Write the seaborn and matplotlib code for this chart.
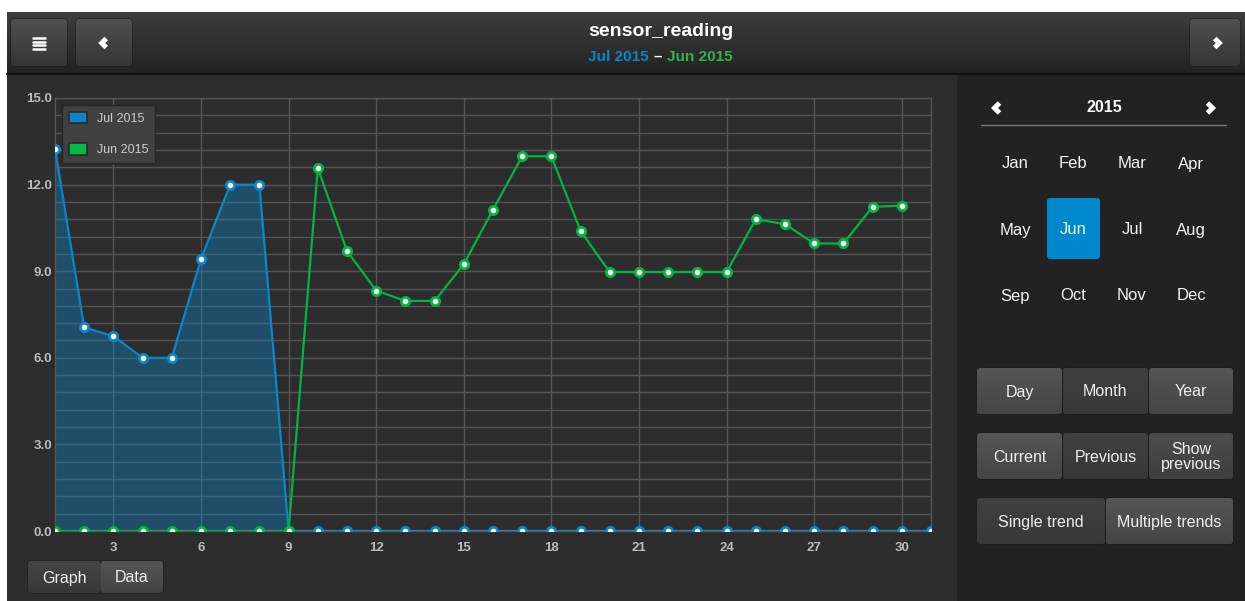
import numpy as np
import pandas as pd
import matplotlib.pyplot as plt
import seaborn as sns
from matplotlib.patches import FancyBboxPatch, Rectangle, Patch
from matplotlib.colors import LinearSegmentedColormap

# dados
dias_jul = list(range(1, 32))
valores_jul = [13.25, 7.05, 6.75, 6.0, 6.0, 9.42, 12.0, 12.0, 0.0, 0.0,
               0.0, 0.0, 0.0, 0.0, 0.0, 0.0, 0.0, 0.0, 0.0, 0.0,
               0.0, 0.0, 0.0, 0.0, 0.0, 0.0, 0.0, 0.0, 0.0, 0.0, 0.0]
dias_jun = list(range(1, 31))
valores_jun = [0.0, 0.0, 0.0, 0.0, 0.0, 0.0, 0.0, 0.0, 0.0, 12.57,
               9.7, 8.33, 7.97, 7.97, 9.24, 11.13, 12.98, 12.98, 10.39, 8.97,
               8.97, 8.97, 8.97, 8.97, 10.8, 10.63, 9.96, 9.96, 11.23, 11.27]
serie_nomes = ['Jul 2015', 'Jun 2015']
x_ticks = [3, 6, 9, 12, 15, 18, 21, 24, 27, 30]
y_ticks = [0, 3, 6, 9, 12, 15]
meses = ['Jan', 'Feb', 'Mar', 'Apr', 'May', 'Jun', 'Jul', 'Aug', 'Sep', 'Oct', 'Nov', 'Dec']

AZUL = '#0a86c9'
VERDE = '#00b640'
W, H = 1245, 601

sns.set_theme(style="dark")
plt.rcParams['font.family'] = ['Liberation Sans', 'DejaVu Sans']

fig = plt.figure(figsize=(W / 100, H / 100), dpi=100, facecolor='white')

# camada de fundo em coordenadas de pixel
bg = fig.add_axes([0, 0, 1, 1], zorder=0)
bg.set_axis_off()


def gradiente(c_top, c_bot):
    return LinearSegmentedColormap.from_list('g', [c_top, c_bot])


grad = np.linspace(0, 1, 64).reshape(-1, 1)


def botao(x0, y0, x1, y1, c_top, c_bot, texto=None, fs=11.5, rad=3):
    p = FancyBboxPatch((x0, y0), x1 - x0, y1 - y0,
                       boxstyle=f"round,pad=0,rounding_size={rad}",
                       facecolor=c_bot, edgecolor='#1c1c1c', lw=0.8, zorder=2)
    bg.add_patch(p)
    im = bg.imshow(grad, extent=(x0, x1, y1, y0), cmap=gradiente(c_top, c_bot),
                   aspect='auto', interpolation='bicubic', zorder=2.1)
    im.set_clip_path(p)
    if texto:
        bg.text((x0 + x1) / 2, (y0 + y1) / 2 + 1, texto, color='#eeeeee',
                fontsize=fs, ha='center', va='center', zorder=3,
                linespacing=0.95)


def chevron(cx, cy, lado, tam=5, cor='white', lw=3.6):
    d = tam * (1 if lado == 'r' else -1)
    bg.plot([cx - d / 2, cx + d / 2, cx - d / 2], [cy - tam, cy, cy + tam],
            color=cor, lw=lw, solid_capstyle='butt', solid_joinstyle='miter', zorder=4)


# paineis
bg.add_patch(Rectangle((7, 73), 950, H - 73, facecolor='#2d2d2d', lw=0, zorder=1))
bg.add_patch(Rectangle((957, 73), W - 957, H - 73, facecolor='#222222', lw=0, zorder=1))
bg.imshow(grad, extent=(7, W, 73, 12), cmap=gradiente('#3d3d3d', '#232323'),
          aspect='auto', zorder=1)
bg.plot([7, W], [74, 74], color='#111111', lw=1.5, zorder=1.5)

# cabecalho
botao(11, 19, 67, 66, '#505050', '#353535')
botao(76, 19, 132, 66, '#505050', '#353535')
botao(1190, 19, 1240, 66, '#505050', '#353535')
for yy in [38, 41.5, 45, 48.5]:
    bg.plot([33, 45], [yy, yy], color='white', lw=1.8, zorder=4)
chevron(104, 43, 'l', tam=4.5)
chevron(1217, 43, 'r', tam=4.5)

bg.text(661, 32, 'sensor_reading', color='white', fontsize=14, fontweight='bold',
        ha='center', va='center', zorder=4)
bg.text(649, 57, serie_nomes[0], color=AZUL, fontsize=11, fontweight='bold',
        ha='right', va='center', zorder=4)
bg.text(658, 57, '–', color='white', fontsize=11, fontweight='bold',
        ha='center', va='center', zorder=4)
bg.text(667, 57, serie_nomes[1], color='#2fb64a', fontsize=11, fontweight='bold',
        ha='left', va='center', zorder=4)

# calendario
chevron(997, 108, 'l', tam=5)
chevron(1210, 108, 'r', tam=5)
bg.text(1104, 108, '2015', color='white', fontsize=11.5, fontweight='bold',
        ha='center', va='center', zorder=4)
bg.plot([981, 1226], [124.5, 124.5], color='#7a7a7a', lw=1, zorder=3)
col_x = [1015, 1073, 1132, 1191]
lin_y = [163, 229, 295]
bg.add_patch(FancyBboxPatch((1047, 198), 53, 61, boxstyle="round,pad=0,rounding_size=3",
                            facecolor='#0088cc', lw=0, zorder=3))
for i, m in enumerate(meses):
    bg.text(col_x[i % 4], lin_y[i // 4] + 1, m, color='#f2f2f2', fontsize=12,
            ha='center', va='center', zorder=4)

# botoes do painel direito
CL, CLB = '#555555', '#454545'
CD, CDB = '#404040', '#383838'
botao(977, 368, 1062, 414, CL, CLB, 'Day')
botao(1063, 368, 1148, 414, CD, CDB, 'Month')
botao(1149, 368, 1233, 414, CL, CLB, 'Year')
botao(977, 433, 1062, 479, CL, CLB, 'Current')
botao(1063, 433, 1148, 479, CD, CDB, 'Previous')
botao(1149, 433, 1233, 479, '#4c4c4c', '#3f3f3f', 'Show\nprevious')
botao(977, 498, 1105, 544, CD, CDB, 'Single trend')
botao(1106, 498, 1233, 544, CL, CLB, 'Multiple trends')

# botoes Graph / Data
botao(28, 561, 101, 593, '#454545', '#383838', 'Graph')
botao(101, 561, 163, 593, '#555555', '#444444', 'Data')

bg.set_xlim(0, W)
bg.set_ylim(H, 0)

# grafico principal
ax = fig.add_axes([55 / W, 1 - 531 / H, (931 - 55) / W, (531 - 98) / H], zorder=2)
ax.set_facecolor('#2d2d2d')

df_jul = pd.DataFrame({'dia': dias_jul, 'valor': valores_jul})
df_jun = pd.DataFrame({'dia': dias_jun, 'valor': valores_jun})

ax.fill_between(df_jul['dia'], df_jul['valor'], 0, color=AZUL, alpha=0.38, lw=0, zorder=2)
sns.lineplot(data=df_jul, x='dia', y='valor', ax=ax, color=AZUL, lw=1.6,
             marker='o', markersize=6, markerfacecolor='white',
             markeredgecolor=AZUL, markeredgewidth=2, zorder=3)
sns.lineplot(data=df_jun, x='dia', y='valor', ax=ax, color=VERDE, lw=1.6,
             marker='o', markersize=6, markerfacecolor='white',
             markeredgecolor=VERDE, markeredgewidth=2, zorder=4)

ax.set_xlim(1, 31)
ax.set_ylim(0, 15)
ax.set_xticks(x_ticks)
ax.set_yticks(y_ticks)
ax.set_yticks(np.arange(0, 15.01, 0.6), minor=True)
ax.set_yticklabels([f'{v:.1f}' for v in y_ticks])
ax.set_xlabel('')
ax.set_ylabel('')
ax.grid(True, which='major', color='#545454', lw=1)
ax.grid(True, which='minor', axis='y', color='#545454', lw=1)
ax.set_axisbelow(True)
ax.tick_params(axis='both', which='both', length=0, colors='#bbbbbb', labelsize=9.5)
ax.tick_params(axis='x', pad=8)
ax.tick_params(axis='y', pad=2)
for lab in ax.get_xticklabels() + ax.get_yticklabels():
    lab.set_fontweight('bold')
for s in ax.spines.values():
    s.set_color('#555555')
    s.set_linewidth(1)
    s.set_visible(True)

handles = [Patch(facecolor=AZUL, edgecolor='#2a2a2a', lw=1.2),
           Patch(facecolor='#00bb44', edgecolor='#2a2a2a', lw=1.2)]
leg = ax.legend(handles, serie_nomes, loc='upper left',
                bbox_to_anchor=(62 / W, 1 - 105 / H), bbox_transform=fig.transFigure,
                fontsize=9, frameon=True, fancybox=False, borderaxespad=0,
                handlelength=1.45, handleheight=1.05, labelspacing=1.45,
                handletextpad=0.8, borderpad=0.55)
leg.get_frame().set_facecolor('#414141')
leg.get_frame().set_edgecolor('#262626')
leg.get_frame().set_alpha(1)
for t in leg.get_texts():
    t.set_color('#cccccc')

fig.savefig('out.png', dpi=100, facecolor=fig.get_facecolor())
